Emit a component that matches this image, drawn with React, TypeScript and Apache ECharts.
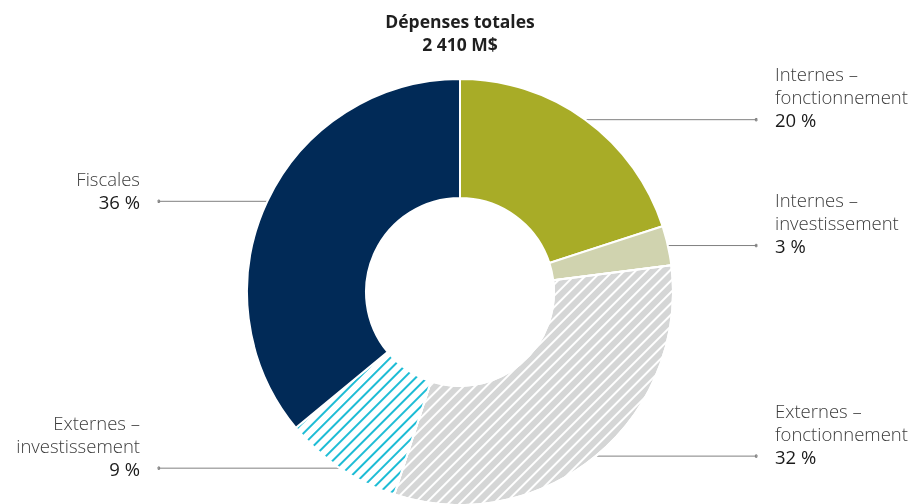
import React, { useEffect, useRef } from "react";
import * as echarts from "echarts";

const titleLines = ["Dépenses totales", "2 410 M$"];
const categories = [
  "Internes –\nfonctionnement",
  "Internes –\ninvestissement",
  "Externes –\nfonctionnement",
  "Externes –\ninvestissement",
  "Fiscales",
];
const shares = [20, 3, 32, 9, 36];
const sliceColors = ["#A8AC27", "#D0D3AF", "#D5D6D6", "#FFFFFF", "#012A57"];
const stripeColors = [null, null, "#FFFFFF", "#1DBCD5", null];

const FONT = "'Open Sans', 'Noto Sans', sans-serif";

export default function App() {
  const ref = useRef<HTMLDivElement>(null);
  useEffect(() => {
    if (!ref.current) return;
    const chart = echarts.init(ref.current, undefined, { renderer: "svg" });
    const RIGHT_END = 757;
    const LEFT_END = 158;
    const RIGHT_TEXT = 775;
    const LEFT_TEXT = 140;
    const data = categories.map((name, i) => {
      const item: any = {
        name,
        value: shares[i],
        itemStyle: { color: sliceColors[i] },
      };
      const sc = stripeColors[i];
      if (sc) {
        item.itemStyle.decal =
          i === 2
            ? { symbol: "rect", symbolSize: 1, color: sc, dashArrayX: [1, 0], dashArrayY: [1.5, 5.8], rotation: -Math.PI / 4 }
            : { symbol: "rect", symbolSize: 1, color: sc, dashArrayX: [1, 0], dashArrayY: [2, 6], rotation: -Math.PI / 4 };
      }
      return item;
    });
    chart.setOption({
      animation: false,
      title: {
        text: titleLines.join("\n"),
        left: 455,
        textAlign: "center",
        top: 4,
        textStyle: {
          fontFamily: FONT,
          fontSize: 17.5,
          fontWeight: "bold",
          color: "#1f1f1f",
          lineHeight: 23,
        },
      },
      series: [
        {
          type: "pie",
          center: [460, 292],
          radius: [94, 213],
          startAngle: 90,
          clockwise: true,
          avoidLabelOverlap: false,
          bleedMargin: 0,
          itemStyle: { borderColor: "#FFFFFF", borderWidth: 2 },
          emphasis: { disabled: true },
          label: {
            show: true,
            position: "outside",
            lineHeight: 23,
            formatter: (p: any) =>
              String(p.name)
                .split("\n")
                .map((s: string) => `{n|${s}}`)
                .join("\n") + `\n{p|${p.value} %}`,
            rich: {
              n: { fontFamily: FONT, fontSize: 18.5, fontWeight: 300, color: "#3c3c3c", lineHeight: 23 },
              p: { fontFamily: FONT, fontSize: 18.5, fontWeight: 400, color: "#1a1a1a", lineHeight: 23 },
            },
          },
          labelLine: {
            show: true,
            length: 0,
            length2: 20,
            lineStyle: { color: "#808080", width: 1 },
          },
          labelLayout: (params: any) => {
            const pts = params.labelLinePoints;
            if (!pts) return {};
            const right = pts[2][0] >= pts[0][0];
            const y = pts[0][1];
            const endX = right ? RIGHT_END : LEFT_END;
            const d = right ? -1 : 1;
            return {
              x: right ? RIGHT_TEXT : LEFT_TEXT,
              y: y + 11.5,
              align: right ? "left" : "right",
              verticalAlign: "bottom",
              labelLinePoints: [
                [pts[0][0], y],
                [endX, y],
                [endX, y - 1.2],
                [endX + d * 1.6, y - 1.2],
                [endX + d * 1.6, y + 1.2],
                [endX, y + 1.2],
                [endX, y],
              ],
            };
          },
          data,
        },
      ],
    });
    return () => chart.dispose();
  }, []);
  return (
    <div
      ref={ref}
      style={{ position: "fixed", left: 0, top: 0, width: 913, height: 504 }}
    />
  );
}
